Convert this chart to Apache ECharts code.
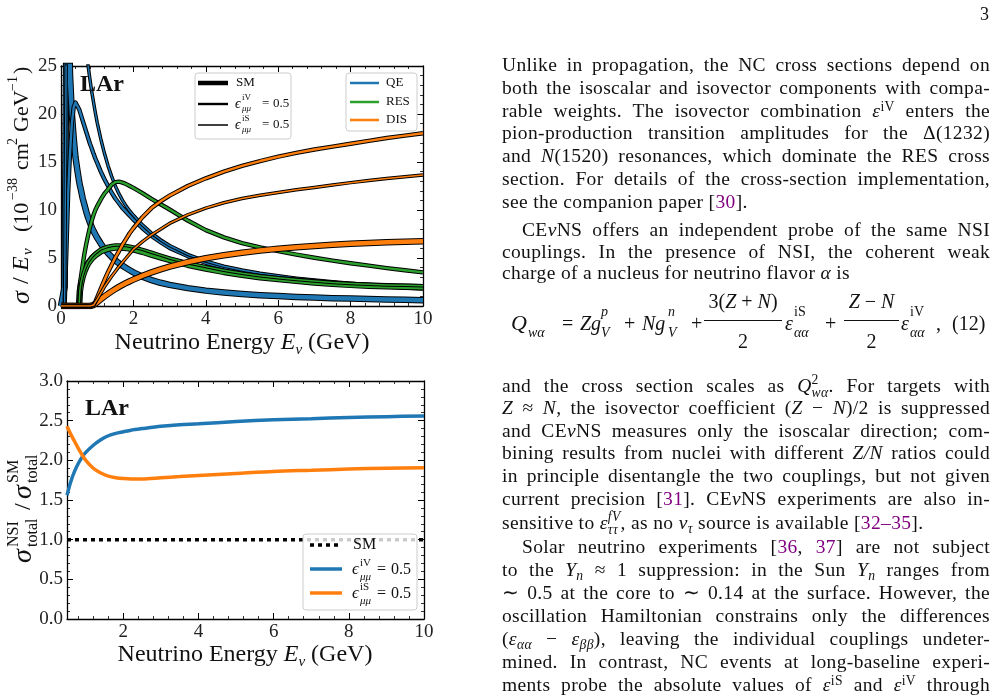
<!DOCTYPE html>
<html>
<head>
<meta charset="utf-8">
<script src="https://cdn.jsdelivr.net/npm/echarts@6/dist/echarts.min.js"></script>
<style>
html,body{margin:0;padding:0;background:#fff;}
#page{position:relative;width:997px;height:698px;overflow:hidden;background:#fff;}
#chart{position:absolute;left:0;top:0;width:997px;height:698px;}
.ln{position:absolute;left:502px;width:488px;height:22px;line-height:22px;font-family:'Liberation Serif',serif;font-size:19.5px;letter-spacing:0.35px;color:#111;text-align:justify;text-align-last:justify;white-space:nowrap;}
.ln.in{left:522px;width:468px;}
.ln.lf{text-align:left;text-align-last:left;}
.sp{font-size:70%;position:relative;top:-0.45em;line-height:0;}
.sb{font-size:70%;position:relative;top:0.3em;line-height:0;}
.st{display:inline-block;vertical-align:-0.4em;font-size:70%;line-height:0.95;text-align:left;text-align-last:left;}
.st span{display:block;}
.c{color:#800080;}
.m{position:absolute;font-family:'Liberation Serif',serif;font-size:20px;line-height:20px;height:20px;color:#111;white-space:nowrap;}
.ms{position:absolute;font-family:'Liberation Serif',serif;font-size:14px;line-height:14px;color:#111;white-space:nowrap;}
.fr{text-align:center;}
.bar{position:absolute;height:1px;background:#111;}
#pg{position:absolute;left:980px;top:4px;font-family:'Liberation Serif',serif;font-size:18px;color:#111;}
</style>
</head>
<body>
<div id="page">
<div id="chart"></div>
<div id="pg">3</div>

<div class="ln" style="top:54px">Unlike in propagation, the NC cross sections depend on</div>
<div class="ln" style="top:77px">both the isoscalar and isovector components with compa-</div>
<div class="ln" style="top:100px">rable weights. The isovector combination <i>ε</i><span class="sp">iV</span> enters the</div>
<div class="ln" style="top:122px">pion-production transition amplitudes for the Δ(1232)</div>
<div class="ln" style="top:145px">and <i>N</i>(1520) resonances, which dominate the RES cross</div>
<div class="ln" style="top:168px">section. For details of the cross-section implementation,</div>
<div class="ln lf" style="top:191px">see the companion paper [<span class="c">30</span>].</div>
<div class="ln in" style="top:219px">CE<i>ν</i>NS offers an independent probe of the same NSI</div>
<div class="ln" style="top:241px">couplings. In the presence of NSI, the coherent weak</div>
<div class="ln lf" style="top:262px">charge of a nucleus for neutrino flavor <i>α</i> is</div>

<div class="m" style="left:511px;top:313px;font-size:22px"><i>Q</i></div>
<div class="ms" style="left:528px;top:326px"><i>wα</i></div>
<div class="m" style="left:562px;top:313px">=</div>
<div class="m" style="left:580px;top:313px"><i>Zg</i></div>
<div class="ms" style="left:601px;top:305px"><i>p</i></div>
<div class="ms" style="left:601px;top:326px"><i>V</i></div>
<div class="m" style="left:624px;top:313px">+</div>
<div class="m" style="left:642px;top:313px"><i>Ng</i></div>
<div class="ms" style="left:668px;top:305px"><i>n</i></div>
<div class="ms" style="left:668px;top:326px"><i>V</i></div>
<div class="m" style="left:691px;top:313px">+</div>
<div class="m fr" style="left:703px;top:291px;width:80px">3(<i>Z</i> + <i>N</i>)</div>
<div class="bar" style="left:704px;top:320px;width:78px"></div>
<div class="m fr" style="left:703px;top:331px;width:80px">2</div>
<div class="m" style="left:785px;top:313px"><i>ε</i></div>
<div class="ms" style="left:794px;top:305px">iS</div>
<div class="ms" style="left:794px;top:326px"><i>αα</i></div>
<div class="m" style="left:825px;top:313px">+</div>
<div class="m fr" style="left:843px;top:291px;width:57px"><i>Z</i> − <i>N</i></div>
<div class="bar" style="left:844px;top:320px;width:55px"></div>
<div class="m fr" style="left:843px;top:331px;width:57px">2</div>
<div class="m" style="left:901px;top:313px"><i>ε</i></div>
<div class="ms" style="left:910px;top:305px">iV</div>
<div class="ms" style="left:910px;top:326px"><i>αα</i></div>
<div class="m" style="left:936px;top:313px">,</div>
<div class="m" style="left:952px;top:313px">(12)</div>

<div class="ln" style="top:374px">and the cross section scales as <i>Q</i><span class="st"><span>2</span><span><i>wα</i></span></span>. For targets with</div>
<div class="ln" style="top:397px"><i>Z</i> ≈ <i>N</i>, the isovector coefficient (<i>Z</i> − <i>N</i>)/2 is suppressed</div>
<div class="ln" style="top:420px">and CE<i>ν</i>NS measures only the isoscalar direction; com-</div>
<div class="ln" style="top:442px">bining results from nuclei with different <i>Z/N</i> ratios could</div>
<div class="ln" style="top:465px">in principle disentangle the two couplings, but not given</div>
<div class="ln" style="top:488px">current precision [<span class="c">31</span>]. CE<i>ν</i>NS experiments are also in-</div>
<div class="ln lf" style="top:511px">sensitive to <i>ε</i><span class="st"><span><i>fV</i></span><span><i>ττ</i></span></span>, as no <i>ν</i><span class="sb"><i>τ</i></span> source is available [<span class="c">32–35</span>].</div>
<div class="ln in" style="top:536px">Solar neutrino experiments [<span class="c">36</span>, <span class="c">37</span>] are not subject</div>
<div class="ln" style="top:559px">to the <i>Y</i><span class="sb"><i>n</i></span> ≈ 1 suppression: in the Sun <i>Y</i><span class="sb"><i>n</i></span> ranges from</div>
<div class="ln" style="top:582px">∼ 0.5 at the core to ∼ 0.14 at the surface. However, the</div>
<div class="ln" style="top:605px">oscillation Hamiltonian constrains only the differences</div>
<div class="ln" style="top:628px">(<i>ε</i><span class="sb"><i>αα</i></span> − <i>ε</i><span class="sb"><i>ββ</i></span>), leaving the individual couplings undeter-</div>
<div class="ln" style="top:651px">mined. In contrast, NC events at long-baseline experi-</div>
<div class="ln" style="top:674px">ments probe the absolute values of <i>ε</i><span class="sp">iS</span> and <i>ε</i><span class="sp">iV</span> through</div>
</div>

<script>
// energy grid for the top panel (GeV)
var E = [0, 0.05, 0.1, 0.15, 0.2, 0.25, 0.3, 0.35, 0.4, 0.45,
         0.5, 0.52, 0.55, 0.6, 0.65, 0.7, 0.75, 0.8, 0.85, 0.9, 0.95,
         1.0, 1.1, 1.2, 1.3, 1.4, 1.5, 1.6, 1.7, 1.8, 1.9, 2.0,
         2.25, 2.5, 2.75, 3.0,
         3.5, 4.0, 4.5, 5.0, 5.5, 6.0, 6.5, 7.0, 7.5, 8.0, 8.5, 9.0, 9.5, 10.0];
// sigma/E in 1e-38 cm2/GeV, QE
var qeSM = [0, 0, 2, 30, 32, 24, 20, 17.5, 15.5, 14.2,
            13, 12.6, 12.1, 11.2, 10.5, 9.8, 9.2, 8.7, 8.2, 7.8, 7.45,
            7.1, 6.5, 5.95, 5.5, 5.1, 4.75, 4.45, 4.2, 3.95, 3.72, 3.5,
            3.05, 2.7, 2.42, 2.2,
            1.86, 1.6, 1.41, 1.26, 1.13, 1.03, 0.95, 0.88, 0.82, 0.77, 0.72, 0.68, 0.64, 0.61];
var qeIV = [0, 0, 0, 6, 12, 16, 19, 20.7, 21.2, 21,
            20.5, 20.3, 19.9, 19.3, 18.7, 18.1, 17.5, 16.9, 16.4, 15.85, 15.35,
            14.9, 14.0, 13.2, 12.5, 11.8, 11.2, 10.7, 10.2, 9.8, 9.4, 9.0,
            8.1, 7.3, 6.65, 6.05,
            5.2, 4.5, 4.0, 3.62, 3.3, 3.03, 2.8, 2.6, 2.43, 2.28, 2.15, 2.03, 1.92, 1.82];
var qeIS = [0, 0, 0, 30, 50, 48, 45, 42, 40, 37,
            34, 33, 31.5, 30, 28.2, 26.5, 25, 23.6, 22.3, 21.2, 20.1,
            19.1, 17.4, 15.9, 14.6, 13.5, 12.5, 11.7, 11.0, 10.4, 9.9, 9.45,
            8.45, 7.6, 6.9, 6.3,
            5.38, 4.68, 4.15, 3.75, 3.42, 3.14, 2.9, 2.7, 2.52, 2.37, 2.23, 2.1, 1.98, 1.88];
// RES
var resSM = [0, 0, 0, 0, 0, 0, 0, 0, 0, 0,
             0, 1.5, 2.3, 3.1, 3.65, 4.1, 4.45, 4.7, 4.95, 5.15, 5.3,
             5.45, 5.7, 5.85, 5.97, 6.05, 6.1, 6.1, 6.08, 6.05, 5.98, 5.9,
             5.65, 5.35, 5.07, 4.8,
             4.3, 3.9, 3.55, 3.25, 3.0, 2.8, 2.62, 2.45, 2.32, 2.2, 2.12, 2.05, 2.0, 1.95];
var resIV = [0, 0, 0, 0, 0, 0, 0, 0, 0, 0,
             0, 2.0, 3.0, 4.3, 5.5, 6.5, 7.4, 8.2, 8.9, 9.5, 10.0,
             10.4, 11.1, 11.7, 12.15, 12.65, 12.9, 12.95, 12.85, 12.7, 12.5, 12.3,
             11.75, 11.15, 10.6, 10.05,
             8.9, 7.9, 7.15, 6.55, 6.1, 5.72, 5.36, 5.03, 4.73, 4.45, 4.2, 3.95, 3.72, 3.5];
var resIS = [0, 0, 0, 0, 0, 0, 0, 0, 0, 0,
             0, 1.6, 2.4, 3.25, 3.8, 4.3, 4.65, 4.9, 5.15, 5.35, 5.52,
             5.7, 5.95, 6.1, 6.22, 6.3, 6.35, 6.35, 6.33, 6.3, 6.23, 6.15,
             5.9, 5.6, 5.3, 5.0,
             4.5, 4.1, 3.72, 3.4, 3.15, 2.95, 2.76, 2.6, 2.46, 2.35, 2.27, 2.2, 2.15, 2.1];
// DIS
var disSM = [0, 0, 0, 0, 0, 0, 0, 0, 0, 0,
             0, 0, 0, 0, 0, 0, 0, 0, 0, 0.1, 0.25,
             0.4, 0.7, 1.0, 1.27, 1.52, 1.76, 1.99, 2.2, 2.4, 2.58, 2.75,
             3.15, 3.5, 3.82, 4.1,
             4.58, 4.97, 5.28, 5.55, 5.77, 5.96, 6.12, 6.26, 6.38, 6.48, 6.57, 6.64, 6.7, 6.75];
var disIV = [0, 0, 0, 0, 0, 0, 0, 0, 0, 0,
             0, 0, 0, 0, 0, 0, 0, 0, 0, 0.1, 0.45,
             0.9, 1.8, 2.7, 3.55, 4.3, 5.05, 5.7, 6.4, 7.0, 7.6, 8.1,
             9.25, 10.2, 10.9, 11.5,
             12.5, 13.3, 14.0, 14.6, 15.1, 15.55, 15.95, 16.3, 16.6, 16.9, 17.2, 17.5, 17.75, 18.0];
var disIS = [0, 0, 0, 0, 0, 0, 0, 0, 0, 0,
             0, 0, 0, 0, 0, 0, 0, 0, 0, 0.1, 0.4,
             0.7, 1.35, 2.0, 2.55, 3.1, 3.6, 4.1, 4.55, 5.0, 5.45, 5.9,
             6.7, 7.4, 8.0, 8.6,
             9.5, 10.2, 10.75, 11.2, 11.53, 11.83, 12.1, 12.35, 12.6, 12.85, 13.07, 13.28, 13.47, 13.65];

// bottom panel: total ratio NSI / SM
var rE = [0.5, 0.6, 0.7, 0.8, 0.9, 1.0, 1.2, 1.4, 1.6, 1.8, 2.0, 2.2, 2.5, 3.0, 3.5, 4.0, 5.0, 6.0, 7.0, 8.0, 9.0, 10.0];
var ratioIV = [1.56, 1.73, 1.86, 1.96, 2.04, 2.1, 2.19, 2.26, 2.31, 2.34, 2.36, 2.38, 2.4, 2.43, 2.45, 2.46, 2.49, 2.51, 2.525, 2.54, 2.55, 2.56];
var ratioIS = [2.43, 2.33, 2.24, 2.15, 2.07, 2.0, 1.9, 1.84, 1.8, 1.78, 1.77, 1.765, 1.765, 1.78, 1.795, 1.81, 1.835, 1.86, 1.875, 1.89, 1.9, 1.905];
var smX = [0.5, 10];
var smY = [1, 1];

var FF = "'Liberation Serif','DejaVu Serif',serif";
var BLUE = '#1f77b4', GREEN = '#2ca02c', ORANGE = '#ff7f0e';

function pairs(x, y) {
    return x.map(function (v, i) { return [v, y[i]]; });
}

function axis(grid, pos, min, max, interval, labels, fmt) {
    var a = {
        gridIndex: grid, type: 'value', position: pos, min: min, max: max,
        axisLine: {show: true, onZero: false, lineStyle: {color: '#000', width: 1.3}},
        axisTick: {show: true, inside: true, length: 6, lineStyle: {color: '#000', width: 1}},
        minorTick: {show: true, splitNumber: 5, length: 3, lineStyle: {color: '#000', width: 0.8}},
        splitLine: {show: false},
        axisLabel: {show: labels, color: '#222', fontFamily: FF, fontSize: 19, margin: 4, formatter: fmt}
    };
    if (interval) a.interval = interval;
    return a;
}

var series = [];
// curve, colour, width ; black outline drawn underneath
var curves = [
    [qeSM, BLUE, 4.5], [qeIV, BLUE, 2.4], [qeIS, BLUE, 1.5],
    [resSM, GREEN, 4.5], [resIV, GREEN, 2.4], [resIS, GREEN, 1.5],
    [disSM, ORANGE, 4.5], [disIV, ORANGE, 2.4], [disIS, ORANGE, 1.5]
];
curves.forEach(function (c) {
    var d = pairs(E, c[0]);
    series.push({type: 'line', xAxisIndex: 0, yAxisIndex: 0, data: d, symbol: 'none',
        lineStyle: {color: '#000', width: c[2] + 2, join: 'round'}, silent: true});
    series.push({type: 'line', xAxisIndex: 0, yAxisIndex: 0, data: d, symbol: 'none',
        lineStyle: {color: c[1], width: c[2], join: 'round'}, silent: true});
});
series.push({type: 'line', xAxisIndex: 2, yAxisIndex: 2, data: pairs(smX, smY), symbol: 'none',
    lineStyle: {color: '#000', width: 3.5, type: [4, 4]}, silent: true});
series.push({type: 'line', xAxisIndex: 2, yAxisIndex: 2, data: pairs(rE, ratioIV), symbol: 'none', smooth: 0.3,
    lineStyle: {color: BLUE, width: 3.5}, silent: true});
series.push({type: 'line', xAxisIndex: 2, yAxisIndex: 2, data: pairs(rE, ratioIS), symbol: 'none', smooth: 0.3,
    lineStyle: {color: ORANGE, width: 3.5}, silent: true});

function T(x, y, text, size, opt) {
    opt = opt || {};
    return {type: 'text', x: x, y: y, z: 100, silent: true, style: {
        text: text, fontSize: size, fontFamily: FF, fontStyle: opt.it ? 'italic' : 'normal',
        fontWeight: opt.b ? 'bold' : 'normal', fill: '#111', align: opt.align || 'left', verticalAlign: 'middle'}};
}
function L(x1, x2, y, color, w, dash) {
    return {type: 'line', z: 100, silent: true, shape: {x1: x1, y1: y, x2: x2, y2: y},
        style: {stroke: color, lineWidth: w, lineDash: dash || null}};
}
function box(x, y, w, h) {
    return {type: 'rect', z: 99, silent: true, shape: {x: x, y: y, width: w, height: h, r: 3},
        style: {fill: 'rgba(255,255,255,0.8)', stroke: '#cccccc', lineWidth: 1}};
}
function vgroup(x, y, items) {
    return {type: 'group', x: x, y: y, rotation: Math.PI / 2, z: 100, children: items};
}
var xTitle = '{a|Neutrino Energy }{i|E}{s|ν}{a| (GeV)}';
var xRich = {
    a: {fontSize: 24, fontFamily: FF, lineHeight: 30, fill: '#111'},
    i: {fontSize: 24, fontFamily: FF, fontStyle: 'italic', lineHeight: 30, fill: '#111'},
    s: {fontSize: 15, fontFamily: FF, fontStyle: 'italic', lineHeight: 20, verticalAlign: 'bottom', fill: '#111'}
};

var graphics = [
    T(80, 85, 'LAr', 24, {b: true}),
    T(85, 409, 'LAr', 24, {b: true}),
    {type: 'text', x: 242, y: 343, z: 100, style: {text: xTitle, rich: xRich, align: 'center', verticalAlign: 'middle'}},
    {type: 'text', x: 245, y: 655, z: 100, style: {text: xTitle, rich: xRich, align: 'center', verticalAlign: 'middle'}},
    // y title, top
    vgroup(22, 304, [
        T(0, 0, 'σ', 26, {it: true}), T(20, 0, '/', 24), T(33, 0, 'E', 24, {it: true}), T(49, 6, 'ν', 15, {it: true}),
        T(72, 0, '(10', 22), T(104, -9, '−38', 14), T(134, 0, 'cm', 22), T(159, -9, '2', 14),
        T(172, 0, 'GeV', 22), T(213, -9, '−1', 14), T(230, 0, ')', 22)
    ]),
    // y title, bottom
    vgroup(24, 563, [
        T(0, 0, 'σ', 28, {it: true}), T(16, -10, 'NSI', 16), T(16, 9, 'total', 16),
        T(53, 0, '/', 24), T(64, 0, 'σ', 28, {it: true}), T(80, -10, 'SM', 16), T(80, 9, 'total', 16)
    ]),
    // legend: line styles
    box(195, 73, 96, 66),
    L(198, 228, 83, '#000', 4.5), L(198, 228, 104, '#000', 2.4), L(198, 228, 125, '#000', 1.5),
    T(236, 83, 'SM', 13),
    T(235, 104, 'ϵ', 14, {it: true}), T(242, 98, 'iV', 9), T(242, 109, 'μμ', 9, {it: true}),
    T(262, 104, '=', 13), T(273, 104, '0.5', 13),
    T(235, 125, 'ϵ', 14, {it: true}), T(242, 119, 'iS', 9), T(242, 130, 'μμ', 9, {it: true}),
    T(262, 125, '=', 13), T(273, 125, '0.5', 13),
    // legend: channels
    box(346, 73, 71, 58),
    L(350, 379, 83, BLUE, 2.5), L(350, 379, 102, GREEN, 2.5), L(350, 379, 120, ORANGE, 2.5),
    T(386, 83, 'QE', 13), T(386, 102, 'RES', 13), T(386, 120, 'DIS', 13),
    // legend: bottom
    box(303, 534, 114, 76),
    L(310, 342, 545, '#000', 3.5, [4, 4]), L(310, 342, 569, BLUE, 3.5), L(310, 342, 593, ORANGE, 3.5),
    T(353, 545, 'SM', 16),
    T(352, 570, 'ϵ', 17, {it: true}), T(360, 563, 'iV', 11), T(360, 577, 'μμ', 11, {it: true}),
    T(377, 570, '=', 16), T(391, 570, '0.5', 16),
    T(352, 594, 'ϵ', 17, {it: true}), T(360, 587, 'iS', 11), T(360, 601, 'μμ', 11, {it: true}),
    T(377, 594, '=', 16), T(391, 594, '0.5', 16)
];

var chart = echarts.init(document.getElementById('chart'), null, {renderer: 'canvas'});
var option = {
    animation: false,
    backgroundColor: 'transparent',
    grid: [
        {left: 61, top: 66, width: 362, height: 240},
        {left: 67, top: 381, width: 357, height: 238}
    ],
    xAxis: [
        axis(0, 'bottom', 0, 10, 2, true),
        axis(0, 'top', 0, 10, 2, false),
        axis(1, 'bottom', 0.5, 10, null, true, function (v) { return (v % 2 === 0) ? String(v) : ''; }),
        axis(1, 'top', 0.5, 10, null, false)
    ],
    yAxis: [
        axis(0, 'left', 0, 25, 5, true),
        axis(0, 'right', 0, 25, 5, false),
        axis(1, 'left', 0, 3, 0.5, true, function (v) { return v.toFixed(1); }),
        axis(1, 'right', 0, 3, 0.5, false)
    ],
    series: series,
    graphic: graphics
};
chart.setOption(option);
</script>
</body>
</html>
